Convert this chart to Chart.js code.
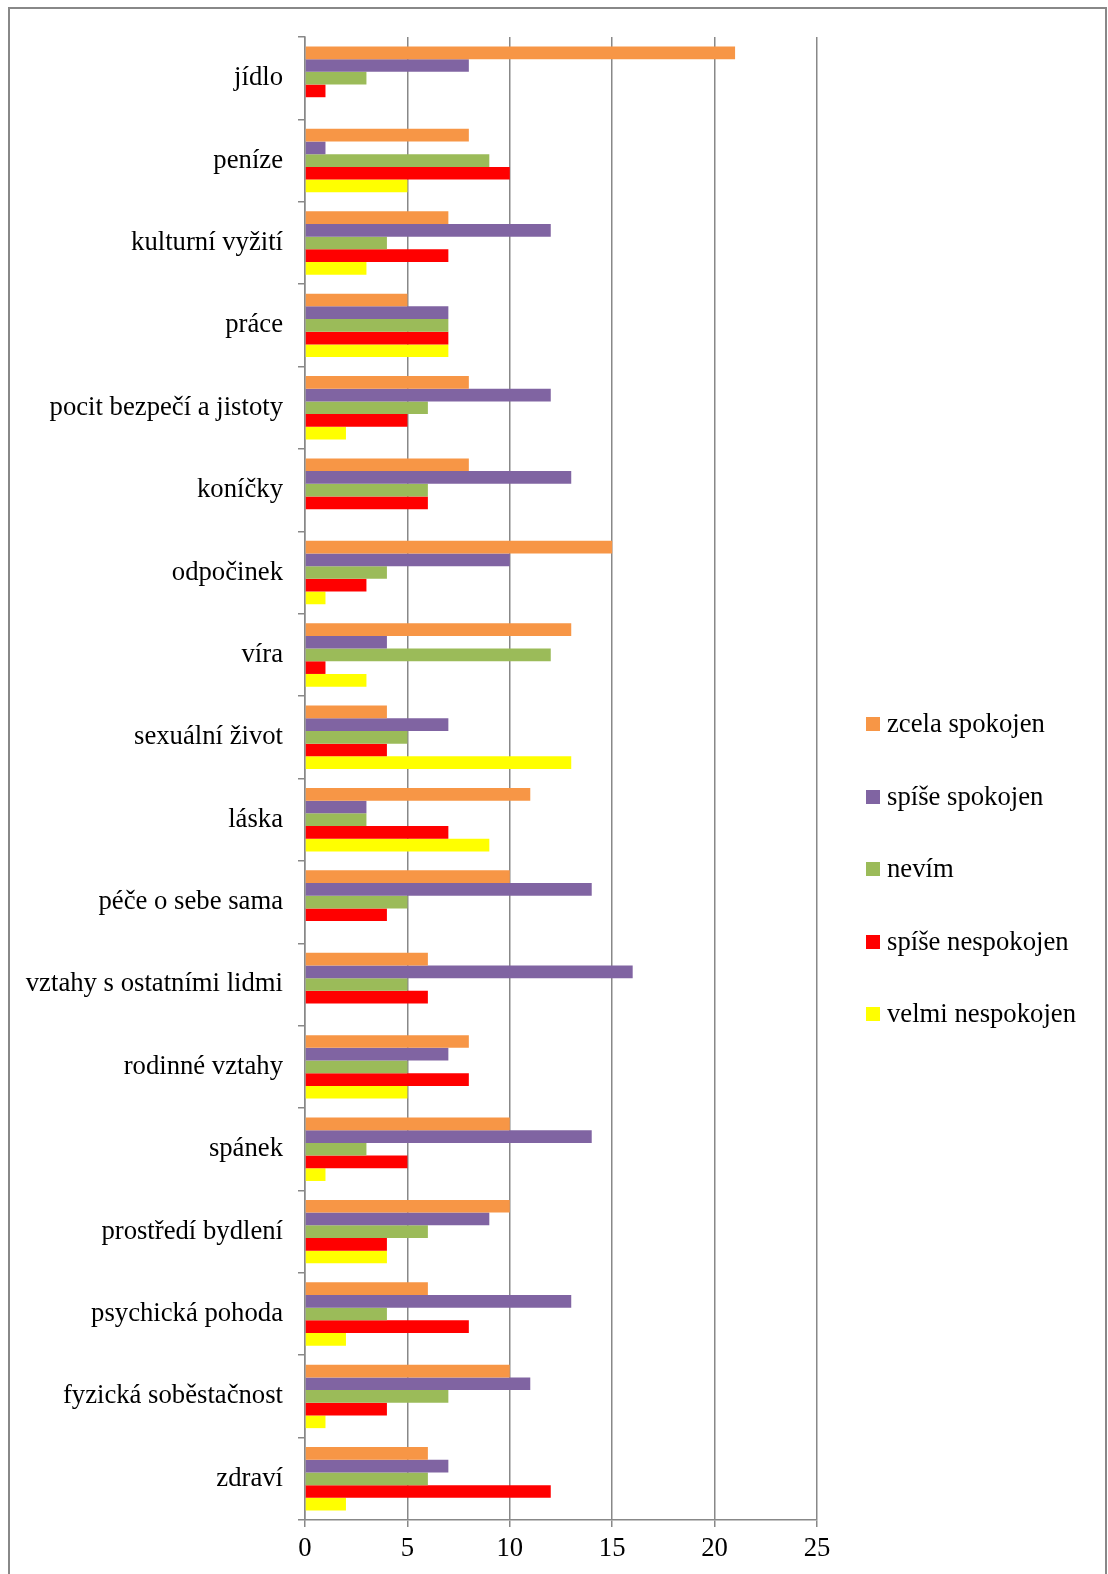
<!DOCTYPE html>
<html>
<head>
<meta charset="utf-8">
<script src="https://cdn.jsdelivr.net/npm/chart.js@4.4.1/dist/chart.umd.min.js"></script>
<style>
  html, body { margin: 0; padding: 0; background: #fff; }
  #wrap { position: absolute; left: 0; top: 0; width: 1108px; height: 1574px; }
  #frame { position: absolute; left: 8px; top: 7px; width: 1099px; height: 1600px;
           border: 2px solid #888; box-sizing: border-box; }
  #legend { position: absolute; left: 866px; top: 708px; font-family: "Liberation Serif", "Times New Roman", serif;
            font-size: 26.7px; color: #000; }
  .item { position: absolute; left: 0; height: 30px; line-height: 30px; white-space: nowrap; }
  .box { display: inline-block; width: 14px; height: 14px; margin-right: 7px; vertical-align: 1px; }
</style>
</head>
<body>
<div id="wrap">
  <div id="frame"></div>
  <canvas id="myChart" width="1108" height="1574"></canvas>
  <div id="legend"></div>
</div>
<script>
const categories = ["jídlo", "peníze", "kulturní vyžití", "práce", "pocit bezpečí a jistoty", "koníčky",
  "odpočinek", "víra", "sexuální život", "láska", "péče o sebe sama", "vztahy s ostatními lidmi",
  "rodinné vztahy", "spánek", "prostředí bydlení", "psychická pohoda", "fyzická soběstačnost", "zdraví"];

const seriesNames = ["zcela spokojen", "spíše spokojen", "nevím", "spíše nespokojen", "velmi nespokojen"];
const seriesColors = ["#F79646", "#8064A2", "#9BBB59", "#FF0000", "#FFFF00"];

const zcelaSpokojen    = [21, 8, 7, 5, 8, 8, 15, 13, 4, 11, 10, 6, 8, 10, 10, 6, 10, 6];
const spiseSpokojen    = [8, 1, 12, 7, 12, 13, 10, 4, 7, 3, 14, 16, 7, 14, 9, 13, 11, 7];
const nevim            = [3, 9, 4, 7, 6, 6, 4, 12, 5, 3, 5, 5, 5, 3, 6, 4, 7, 6];
const spiseNespokojen  = [1, 10, 7, 7, 5, 6, 3, 1, 4, 7, 4, 6, 8, 5, 4, 8, 4, 12];
const velmiNespokojen  = [0, 5, 3, 7, 2, 0, 1, 3, 13, 9, 0, 0, 5, 1, 4, 2, 1, 2];

const xTicks = [0, 5, 10, 15, 20, 25];

const values = [zcelaSpokojen, spiseSpokojen, nevim, spiseNespokojen, velmiNespokojen];
const gray = "#888888";
const font = { family: "'Liberation Serif', 'Times New Roman', serif", size: 26.7 };

const datasets = [];
for (let i = 0; i < seriesNames.length; i++) {
  datasets.push({
    label: seriesNames[i],
    data: values[i],
    backgroundColor: seriesColors[i],
    borderWidth: 0,
    categoryPercentage: 0.77,
    barPercentage: 1.0
  });
}

const ctx = document.getElementById('myChart').getContext('2d');
const myChart = new Chart(ctx, {
  type: 'bar',
  data: { labels: categories, datasets: datasets },
  options: {
    indexAxis: 'y',
    responsive: false,
    animation: false,
    layout: { padding: { top: 37, right: 291, left: 0, bottom: 0 } },
    plugins: { legend: { display: false }, tooltip: { enabled: false } },
    scales: {
      x: {
        min: 0, max: 25,
        afterBuildTicks: (s) => { s.ticks = xTicks.map(v => ({ value: v })); },
        afterFit: (s) => { s.height = 54; },
        grid: { color: gray, lineWidth: 1.5, tickLength: 7 },
        border: { color: gray, width: 1.5 },
        ticks: { color: "#000", font: font, padding: 6, maxRotation: 0 }
      },
      y: {
        afterFit: (s) => { s.width = 305; },
        grid: { color: gray, lineWidth: 1.5, drawOnChartArea: false, tickLength: 7, offset: true },
        border: { color: gray, width: 1.5 },
        ticks: { color: "#000", font: font, padding: 15, autoSkip: false }
      }
    }
  }
});

// legend built from the same series arrays
const legend = document.getElementById('legend');
seriesNames.forEach((name, i) => {
  const d = document.createElement('div');
  d.className = 'item';
  d.style.top = (i * 72.5) + 'px';
  d.innerHTML = '<span class="box" style="background:' + seriesColors[i] + '"></span>' + name;
  legend.appendChild(d);
});
</script>
</body>
</html>
